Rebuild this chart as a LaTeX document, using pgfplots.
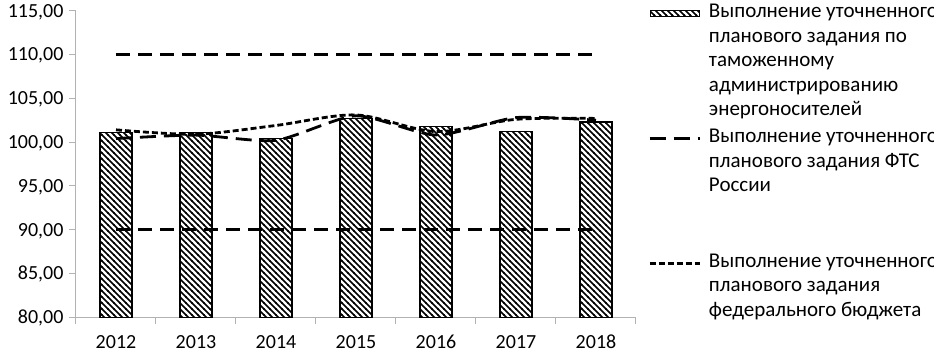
\documentclass[border=0pt]{standalone}
\usepackage{fontspec}
\setmainfont{Carlito}
\usepackage{pgfplots}
\pgfplotsset{compat=1.18}
\usetikzlibrary{patterns}
\pgfdeclarepatternformonly{hatch}{\pgfqpoint{-1pt}{-1pt}}{\pgfqpoint{7pt}{7pt}}{\pgfqpoint{6pt}{6pt}}{%
  \pgfsetlinewidth{1.7pt}%
  \pgfpathmoveto{\pgfqpoint{-0.5pt}{6.5pt}}%
  \pgfpathlineto{\pgfqpoint{6.5pt}{-0.5pt}}%
  \pgfusepath{stroke}}
\newcommand{\vext}[1]{\pgfpathmoveto{\pgfqpoint{0pt}{7.7pt}}\pgfpathlineto{\pgfqpoint{0pt}{-#1}}\pgfusepath{}}
\pgfplotsset{
  lineleg/.style={legend image code/.code={\draw[##1] (0pt,-3.8pt) -- (50pt,-3.8pt); \vext{#1}}},
  barleg/.style={legend image code/.code={\draw[pattern=hatch, draw=black, line width=1pt] (0.5pt,-6.8pt) rectangle (49.5pt,-0.3pt); \vext{#1}}},
}
\newcommand{\legtext}[1]{\parbox[t]{240pt}{\rule{0pt}{17.3pt}#1\rule[-7.2pt]{0pt}{1pt}}}
\begin{document}
\begin{tikzpicture}
\begin{axis}[
  scale only axis,
  width=560pt, height=306.6pt,
  xmin=-0.5, xmax=6.5,
  ymin=80, ymax=115,
  ytick={80,85,...,115},
  xtick={0,...,6},
  xticklabels={2012,2013,2014,2015,2016,2017,2018},
  minor xtick={-0.5,0.5,...,6.5},
  major x tick style={draw=none},
  minor tick length=7pt,
  major tick length=7pt,
  tick align=outside,
  axis x line*=bottom,
  axis y line*=left,
  axis line style={draw=gray!60, line width=1pt, -},
  tick style={draw=gray!60, line width=1pt},
  /pgf/number format/.cd, fixed, fixed zerofill, precision=2, use comma, assume math mode=true,
  /pgfplots/.cd,
  tick label style={font=\fontsize{20}{24}\selectfont},
  yticklabel style={anchor=base east, yshift=-6.3pt, xshift=-2pt},
  xticklabel style={anchor=base, yshift=-24pt},
  legend style={
    at={(rel axis cs:1,1)}, anchor=north west, xshift=12pt, yshift=10.4pt,
    draw=none, inner sep=0pt, fill=none,
    font=\fontsize{21}{24.5}\selectfont,
    nodes={inner sep=0pt},
    cells={anchor=base west},
    row sep=0pt, column sep=0pt,
  },
  legend cell align=left,
]
\coordinate (O) at (rel axis cs:0,0);
% reference lines
\addplot[black, line width=2.8pt, dash pattern=on 14pt off 8pt, forget plot] coordinates {(0,110) (6,110)};
\addplot[black, line width=2.8pt, dash pattern=on 14pt off 8pt, forget plot] coordinates {(0,90) (6,90)};

\addplot[ybar, bar width=32pt, draw=black, line width=1.6pt, pattern=hatch, barleg=115.3pt]
  coordinates {(0,101.1) (1,101.1) (2,100.4) (3,102.7) (4,101.8) (5,101.2) (6,102.3)};
\addlegendentry{\hspace{8pt}\legtext{Выполнение уточненного\\планового задания по\\таможенному\\администрированию\\энергоносителей}}

\addplot[black, line width=2.8pt, dash pattern=on 16pt off 8pt, smooth, tension=0.4, lineleg=115.3pt]
  coordinates {(0,100.4) (1,100.8) (2,100.2) (3,103.0) (4,100.8) (5,102.8) (6,102.5)};
\addlegendentry{\hspace{8pt}\legtext{Выполнение уточненного\\планового задания ФТС\\России}}

\addplot[black, line width=2.8pt, dash pattern=on 6pt off 3pt, smooth, tension=0.5, lineleg=66.5pt]
  coordinates {(0,101.4) (1,100.9) (2,101.9) (3,103.1) (4,101.2) (5,102.6) (6,102.7)};
\addlegendentry{\hspace{8pt}\legtext{Выполнение уточненного\\планового задания\\федерального бюджета}}
\end{axis}
\pgfresetboundingbox
\path[use as bounding box] ([xshift=-76pt,yshift=-33.7pt]O) rectangle ([xshift=858pt,yshift=317.3pt]O);
\end{tikzpicture}
\end{document}
